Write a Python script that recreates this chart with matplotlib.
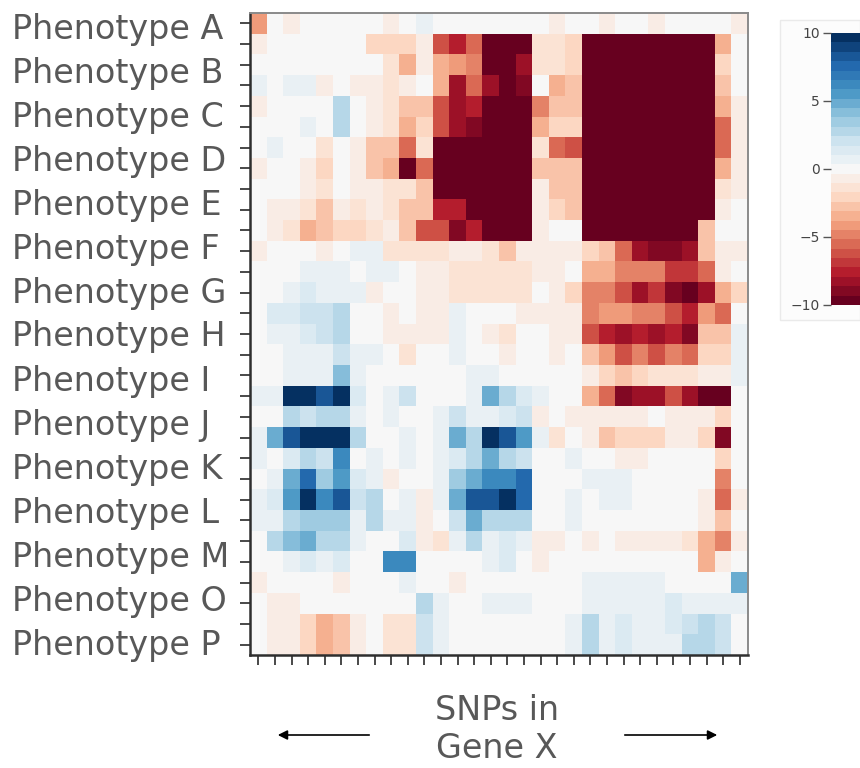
import numpy as np
import matplotlib.pyplot as plt
from matplotlib.patches import Rectangle

# effect score per phenotype sub-row (rows) and SNP (columns), 30 SNPs per row
upper_rows = [
    [-4, 0, -1, 0, 0, 0, 0, 0, -1, 0, 0.7, 0, 0, 0, 0, 0, 0, 0, -1, 0, 0, -1, 0, 0, -1, 0, 0, 0, 0, -1],
    [-1, 0, 0, 0, 0, 0, 0, -2, -2, -2, -1, -6.5, -7.5, -5.5, -10, -10, -10, -1.5, -1.5, -2, -10, -10, -10, -10, -10, -10, -10, -10, -3.5, 0],
    [0, 0, 0, 0, 0, 0, 0, 0, -1.5, -3.5, -1, -3.5, -4, -5, -10, -10, -8, -1.5, -1.5, -2, -10, -10, -10, -10, -10, -10, -10, -10, -2, 0],
    [0.7, 0, 0.8, 0.8, -1, 0, -1, -1, -1.5, -0.7, 0, -3.5, -8, -5.5, -8, -10, -9, 0, -3.5, -2.5, -10, -10, -10, -10, -10, -10, -10, -10, -2.5, 0],
    [-1, 0, 0, 0, 0, 2.5, 0, -1, -1.5, -2.5, -2.5, -6.5, -8, -7.5, -10, -10, -10, -4.5, -2.5, -2.5, -10, -10, -10, -10, -10, -10, -10, -10, -3.5, -1],
    [0, 0, 0, 0.7, 0, 2.5, 0, -1, -1.5, -3.5, -2, -6.5, -8, -9, -10, -10, -10, -3.5, -2, -2, -10, -10, -10, -10, -10, -10, -10, -10, -5.5, -0.8],
    [0, 1, 0, 0, -1.5, 0, -1, -2.5, -2.5, -5.5, -1.5, -10, -10, -10, -10, -10, -10, -1.5, -5.5, -6, -10, -10, -10, -10, -10, -10, -10, -10, -5.5, -1],
    [-1, 0, 0, -1, -2, 0, -1, -2.5, -3.5, -9.5, -5.5, -10, -10, -10, -10, -10, -10, -3, -3, -3, -10, -10, -10, -10, -10, -10, -10, -10, -3.5, -1],
    [0, 0, 0, -1, -1.5, 0, -1, -1, -1.5, -1.5, -2.5, -10, -10, -10, -10, -10, -10, -1, -2.5, -2.5, -10, -10, -10, -10, -10, -10, -10, -10, -1.5, -0.7],
    [0, -1, -1, -1.5, -3, -1, -1.5, -1, -1.5, -2.5, -2.5, -7.5, -7.5, -10, -10, -10, -10, -1, -2, -2.5, -10, -10, -10, -10, -10, -10, -10, -10, -1, 0],
    [0, -1, -1.5, -3.5, -2.5, -2, -2, -1.5, -0.8, -2.5, -6.5, -6.5, -9, -7.5, -10, -10, -10, -0.8, 0, 0, -10, -10, -10, -10, -10, -10, -10, -2.5, 0, 0],
]
middle_rows = [
    [-1, 0, 0, 0, -1, 0, 0.7, 0.7, -1.5, -1.5, -1.5, -1.5, -1, -1, -1.5, -2.5, -1, -1, -1, -1, -2, -2.5, -5.5, -8, -9, -9, -8, -3, -1, -1],
    [0, 0, 0, 0.7, 0.7, 0.7, 0, 0.7, 0.7, 0, -1, -1, -1.5, -1.5, -1.5, -1.5, -1.5, -0.5, -1, 0, -3.5, -3.5, -4.5, -4.5, -4.5, -7, -7, -5.5, -1, 0],
    [0, 0, 1, 1.5, 0.7, 0.7, 0.7, -1, 0, 0, -1, -1, -1.5, -1.5, -1.5, -1.5, -1.5, 0, -1, -2, -4.5, -4.5, -6, -8, -7, -9, -10, -8, -3.5, -2],
    [0, 1.2, 1.2, 2, 2, 2.8, 0, 0, -1, 0, -1, -1, 0.5, 0, 0, 0, -1, -1, -1, -1, -5, -4, -4, -4.5, -4.5, -6, -7.5, -4, -5.5, 0],
    [0, 0.8, 0.8, 1.2, 1.8, 2.8, 0, 0, -1, -1, -1, -1, 0.5, 0, -1, -1.5, 0, 0, -1, -1, -6.5, -7.5, -8, -7.5, -8, -7.5, -9, -3, -3, 0.5],
    [0, 0, 0.7, 0.7, 0.7, 2, 0.7, 0.5, 0, -1.5, 0, 0, 1, 0, 0, -1, 0, 0, -1, 0, -3, -4, -6, -5, -6, -4.5, -5.5, -2, -2, 0.5],
    [0, 0, 0.7, 0.7, 0.7, 4, 1, 0, 0, 0, 0, 0, 0, 0.5, 0.5, 0, 0, 0, 0, 0, -1, -2, -3, -2, -1.2, -1.2, -1.2, -1, -1, 0.5],
    [0.8, 0.8, 10, 10, 8.5, 10, 1.5, 0, 0.7, 1.8, 0, 0, 0, 0.5, 4.5, 2.5, 1.2, 0.5, 0, 0, -3.5, -5.5, -9, -8.5, -8.5, -6.5, -8, -10, -10, 0],
    [0, 0, 3, 2.3, 3, 3, 0.7, 0, 0.7, 0, 0, 0.5, 1.8, 1, 1, 1.5, 1.8, -1, 0, -1, -1, -1, -1, -1, 0, -1, -1, -1, -2, 0],
    [0.5, 5, 8.5, 10, 10, 10, 3, 0, 0, 1, 0, 0.7, 4.5, 3, 10, 8, 5.5, 0.7, -1.5, 0, -1, -3, -2, -2, -2, -1, -1, -2, -9, 0],
]
lower_rows = [
    [0.8, 0, 1.2, 2.5, 2, 6, 0, 0.7, 0, 0.5, 0, 0.5, 1.2, 2.5, 4.5, 3, 2, 0, 0, 0.5, 0, 0, -1, -1, 0, 0, 0, 0, -2, 0],
    [0, 0.8, 4.5, 7.5, 3.5, 5.5, 1.2, 0.8, -1, 0, 0, 1, 3.5, 4.5, 6.5, 6.5, 7.5, 0, 0, 0, 0.5, 0.5, 0.5, 0, 0, 0, 0, 0, -4.5, 0],
    [0.7, 1.5, 5.5, 10, 6.5, 8.5, 2, 3, 0, 0.5, -0.8, 0.7, 5, 8.5, 8.5, 10, 7.5, 0, 0, 0.5, 0, 0.5, 0.5, 0, 0, 0, 0, -0.8, -5.5, -0.8],
    [0.8, 1, 3, 3.5, 3.5, 3.5, 1, 2.5, 0.5, 0.5, -0.7, 0, 1.8, 5, 3, 3, 2.5, 0, 0, 0.5, 0, 0, 0, 0, 0, 0, 0, -0.8, -3, 0],
    [0, 2.5, 3.8, 4.5, 3, 3, 0.7, 0, 0, 1.5, -0.8, -1.5, 0.5, 2.5, 1, 1.5, 0.5, -1, -1, 0, -1, 0, -1, -1, -1, -1, -1.5, -3.5, -4.5, -0.8],
    [0, 0, 1, 1.5, 1, 1.5, 0, 0, 6, 6, 0, 0, 0, 0, 1, 1.5, 0, -0.8, 0, 0, 0, 0, 0, 0, 0, 0, 0, -3.5, -0.8, 0],
    [-0.8, 0, 0, 0, 0, -0.8, 0, 0, 0, 0.5, 0, 0, -0.8, 0, 0, 0, 0, 0, 0, 0, 0.5, 0.5, 0.5, 0.5, 0.5, 0, 0, 0, 0, 4.5],
    [0, -0.8, -0.8, 0, 0, 0, 0, 0, 0, 0, 3, 0.8, 0, 0, 0.5, 0.5, 0.5, 0, 0, 0, 0.5, 0.5, 0.5, 0.8, 0.8, 1.5, 0.8, 0.5, 0.5, 0.8],
    [0, -0.8, -0.8, -2, -3.5, -2.5, -0.8, 0, -1.5, -1.5, 1.8, 0.5, 0, 0, 0, 0, 0, 0, 0, 1, 3, 1, 1.5, 0.5, 0.5, 1.5, 2, 2.5, 2, 0],
    [0, -0.8, -0.8, -2, -3.5, -2.5, -0.8, 0, -1.5, -1.5, 1.8, 0.5, 0, 0, 0, 0, 0, 0, 0, 1, 3, 1, 1.5, 0.5, 0.5, 0.8, 2.5, 2.5, 2, 0],
]
phenotypes = ["Phenotype A", "Phenotype B", "Phenotype C", "Phenotype D", "Phenotype E",
              "Phenotype F", "Phenotype G", "Phenotype H", "Phenotype I", "Phenotype J",
              "Phenotype K", "Phenotype L", "Phenotype M", "Phenotype O", "Phenotype P"]
cbar_ticks = [-10, -5, 0, 5, 10]

scores = np.array(upper_rows + middle_rows + lower_rows)
n_rows, n_snps = scores.shape

W, H = 860, 768
def fx(px):
    return px / W
def fy(py):
    return 1 - py / H

label_font = dict(color='#585858', family=['DejaVu Sans'])

fig = plt.figure(figsize=(W / 100, H / 100), dpi=100)

# odd number of bands so that 0 sits in the neutral middle band
cmap = plt.get_cmap('RdBu', 29)
ax = fig.add_axes([fx(250), fy(655), fx(748) - fx(250), fy(13) - fy(655)])
im = ax.imshow(scores, cmap=cmap, vmin=-10, vmax=10, aspect='auto', interpolation='nearest')
ax.set_xticks(np.arange(n_snps))
ax.set_yticks(np.arange(n_rows))
ax.set_xticklabels([])
ax.set_yticklabels([])
ax.tick_params(length=7, width=1.3, color='#3a3a3a')
for side in ['left', 'bottom']:
    ax.spines[side].set_color('#2e2e2e')
    ax.spines[side].set_linewidth(1.8)
for side in ['top', 'right']:
    ax.spines[side].set_color('#8a8a8a')
    ax.spines[side].set_linewidth(1.4)

# pale panel behind the colour bar
fig.add_artist(Rectangle((fx(780), fy(320)), fx(860) - fx(780), fy(20) - fy(320),
                         transform=fig.transFigure, facecolor='#fcfcfc',
                         edgecolor='#eaeaea', lw=1, zorder=0))
cax = fig.add_axes([fx(831), fy(305), fx(40), fy(33) - fy(305)])
cb = fig.colorbar(im, cax=cax, ticks=cbar_ticks)
cb.outline.set_visible(False)
cax.yaxis.set_ticks_position('left')
cax.tick_params(length=6, width=1, color='#555', labelsize=10, labelcolor='#444', pad=2)

for i, name in enumerate(phenotypes):
    fig.text(fx(12), fy(29 + 44 * i), name, ha='left', va='center',
             fontsize=24, **label_font)

fig.text(fx(497), fy(711), "SNPs in", ha='center', va='center', fontsize=24, **label_font)
fig.text(fx(497), fy(748), "Gene X", ha='center', va='center', fontsize=24, **label_font)

arrow = dict(arrowstyle='-|>', color='black', lw=1.2, mutation_scale=14)
fig.add_artist(plt.Annotation('', xy=(fx(275), fy(735)), xytext=(fx(372), fy(735)),
                              xycoords='figure fraction', arrowprops=arrow))
fig.add_artist(plt.Annotation('', xy=(fx(720), fy(735)), xytext=(fx(622), fy(735)),
                              xycoords='figure fraction', arrowprops=arrow))

fig.savefig('out.png', dpi=100)
